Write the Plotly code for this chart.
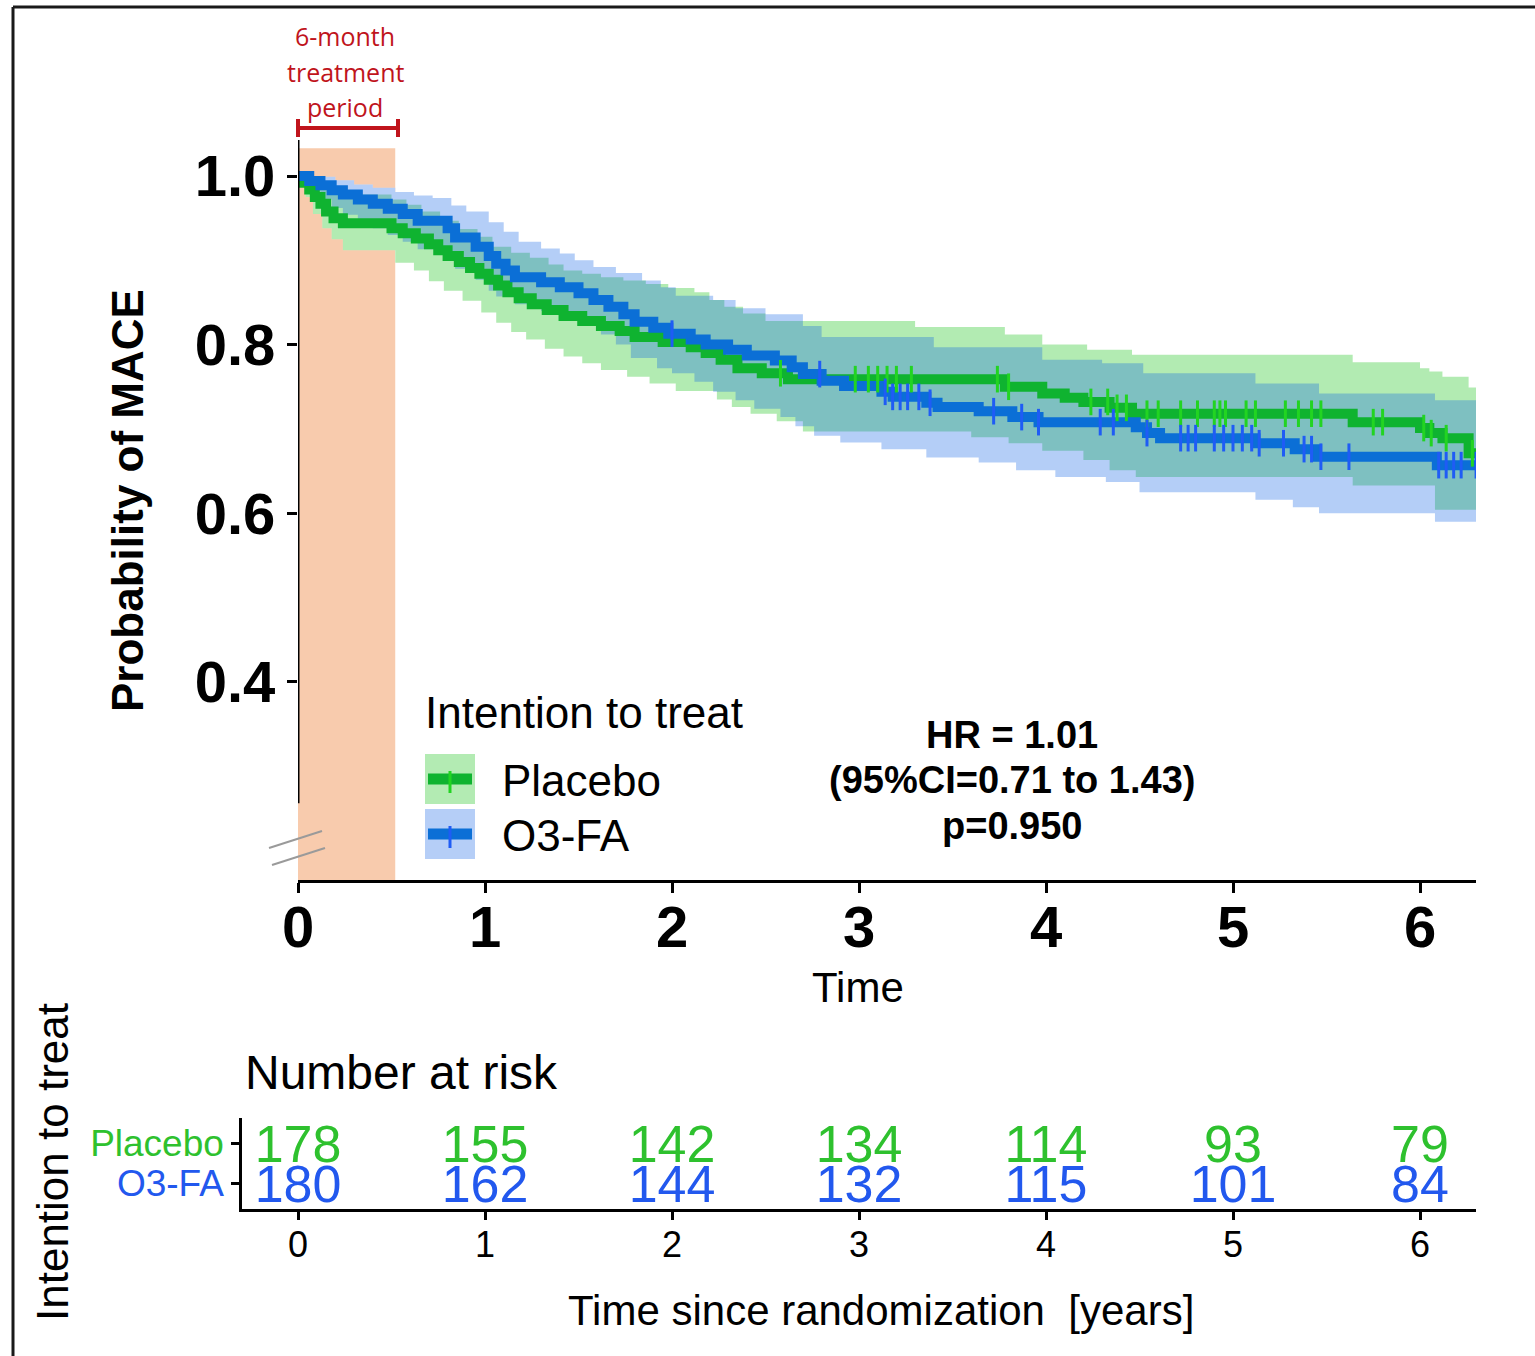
import numpy as np
import plotly.graph_objects as go

# ---------------- data ----------------
# Kaplan-Meier step curves (time in years, survival after each step)
t_placebo = [0, 0.03, 0.06, 0.09, 0.12, 0.15, 0.19, 0.24, 0.50, 0.56, 0.63, 0.70, 0.75, 0.80, 0.86,
             0.92, 0.97, 1.02, 1.07, 1.12, 1.18, 1.25, 1.33, 1.42, 1.52, 1.62, 1.72, 1.80, 1.95, 2.10,
             2.18, 2.26, 2.35, 2.48, 2.62, 3.78, 3.98, 4.10, 4.20, 4.34, 4.46, 5.64, 6.00, 6.05, 6.12,
             6.26, 6.32]
s_placebo = [1.0, 0.992, 0.984, 0.975, 0.967, 0.958, 0.950, 0.944, 0.938, 0.932, 0.926, 0.919, 0.912,
             0.905, 0.898, 0.891, 0.884, 0.877, 0.870, 0.862, 0.855, 0.848, 0.841, 0.834, 0.828, 0.822,
             0.816, 0.809, 0.803, 0.797, 0.790, 0.782, 0.772, 0.766, 0.759, 0.750, 0.742, 0.737, 0.732,
             0.725, 0.718, 0.708, 0.701, 0.695, 0.689, 0.671, 0.671]

t_o3fa = [0, 0.06, 0.12, 0.18, 0.24, 0.32, 0.40, 0.48, 0.56, 0.64, 0.80, 0.84, 0.95, 1.02, 1.06, 1.11,
          1.16, 1.30, 1.40, 1.50, 1.58, 1.66, 1.74, 1.80, 1.90, 1.98, 2.10, 2.18, 2.30, 2.40, 2.55, 2.64,
          2.70, 2.80, 2.92, 3.12, 3.18, 3.36, 3.42, 3.64, 3.82, 3.96, 4.48, 4.54, 4.61, 5.12, 5.33, 5.45,
          6.09, 6.32]
s_o3fa = [1.0, 0.994, 0.989, 0.983, 0.978, 0.972, 0.967, 0.961, 0.955, 0.947, 0.938, 0.927, 0.916, 0.905,
          0.896, 0.888, 0.880, 0.874, 0.868, 0.861, 0.853, 0.845, 0.836, 0.827, 0.820, 0.813, 0.806, 0.800,
          0.794, 0.787, 0.781, 0.773, 0.765, 0.757, 0.751, 0.744, 0.738, 0.731, 0.726, 0.721, 0.714, 0.708,
          0.702, 0.695, 0.689, 0.683, 0.676, 0.667, 0.657, 0.657]

# 95% confidence bands
t_placebo_hi = [0, 0.08, 0.16, 0.50, 0.58, 0.66, 0.76, 0.86, 0.96, 1.04, 1.14, 1.24, 1.34, 1.42, 1.52,
                1.62, 1.74, 1.86, 1.98, 2.12, 2.20, 2.28, 2.38, 2.50, 3.30, 3.78, 3.98, 4.22, 4.46, 5.64,
                6.00, 6.05, 6.12, 6.26, 6.32]
s_placebo_hi = [1.0, 0.99, 0.978, 0.972, 0.966, 0.958, 0.947, 0.937, 0.928, 0.916, 0.909, 0.903, 0.895,
                0.888, 0.884, 0.88, 0.876, 0.872, 0.867, 0.862, 0.853, 0.845, 0.837, 0.828, 0.821, 0.812,
                0.800, 0.794, 0.788, 0.779, 0.772, 0.768, 0.762, 0.749, 0.749]
t_placebo_lo = [0, 0.04, 0.08, 0.13, 0.18, 0.24, 0.52, 0.62, 0.70, 0.78, 0.88, 0.98, 1.06, 1.14, 1.22,
                1.32, 1.42, 1.52, 1.62, 1.76, 1.88, 2.02, 2.24, 2.32, 2.42, 2.56, 2.70, 3.60, 3.80, 3.98,
                4.20, 4.34, 4.48, 5.64, 6.08, 6.32]
s_placebo_lo = [1.0, 0.975, 0.955, 0.938, 0.925, 0.912, 0.897, 0.888, 0.875, 0.864, 0.852, 0.838, 0.826,
                0.815, 0.806, 0.795, 0.786, 0.778, 0.770, 0.762, 0.754, 0.745, 0.735, 0.726, 0.718, 0.709,
                0.697, 0.690, 0.683, 0.674, 0.663, 0.651, 0.643, 0.633, 0.604, 0.604]
t_o3fa_hi = [0, 0.10, 0.20, 0.30, 0.40, 0.52, 0.62, 0.72, 0.82, 0.90, 1.02, 1.10, 1.18, 1.30, 1.40,
             1.48, 1.58, 1.70, 1.84, 1.94, 2.02, 2.22, 2.34, 2.50, 2.70, 2.80, 3.40, 3.98, 4.30, 4.52,
             5.12, 5.46, 6.08, 6.32]
s_o3fa_hi = [1.0, 0.999, 0.995, 0.99, 0.986, 0.981, 0.977, 0.974, 0.965, 0.958, 0.945, 0.934, 0.922,
             0.914, 0.908, 0.900, 0.892, 0.885, 0.876, 0.868, 0.858, 0.853, 0.843, 0.836, 0.822, 0.809,
             0.797, 0.782, 0.778, 0.766, 0.754, 0.742, 0.734, 0.734]
t_o3fa_lo = [0, 0.06, 0.12, 0.18, 0.24, 0.32, 0.40, 0.48, 0.56, 0.64, 0.80, 0.84, 0.95, 1.02, 1.06,
             1.16, 1.30, 1.42, 1.52, 1.62, 1.70, 1.78, 1.92, 2.00, 2.12, 2.22, 2.34, 2.44, 2.58, 2.66,
             2.76, 2.90, 3.12, 3.36, 3.64, 3.84, 4.05, 4.32, 4.50, 5.12, 5.32, 5.46, 6.08, 6.32]
s_o3fa_lo = [1.0, 0.982, 0.972, 0.962, 0.954, 0.946, 0.938, 0.930, 0.922, 0.913, 0.904, 0.890, 0.877,
             0.864, 0.857, 0.848, 0.840, 0.832, 0.822, 0.812, 0.800, 0.784, 0.772, 0.766, 0.756, 0.744,
             0.734, 0.724, 0.714, 0.703, 0.692, 0.684, 0.676, 0.666, 0.660, 0.651, 0.643, 0.637, 0.625,
             0.616, 0.607, 0.600, 0.590, 0.590]

# censoring times
cens_placebo = [2.58, 2.98, 3.05, 3.10, 3.15, 3.20, 3.28, 3.74, 3.80, 4.24, 4.33, 4.38, 4.43, 4.54, 4.60,
                4.72, 4.81, 4.90, 4.93, 4.96, 5.07, 5.12, 5.28, 5.35, 5.42, 5.47, 5.75, 5.80, 6.02, 6.06,
                6.14, 6.28]
cens_o3fa = [2.00, 2.79, 3.14, 3.18, 3.22, 3.26, 3.32, 3.38, 3.72, 3.87, 3.96, 4.29, 4.36, 4.54, 4.72,
             4.76, 4.80, 4.90, 4.95, 5.00, 5.05, 5.10, 5.14, 5.27, 5.38, 5.42, 5.47, 5.62, 6.10, 6.14,
             6.18, 6.22, 6.30]

# number at risk table
risk_years = [0, 1, 2, 3, 4, 5, 6]
risk_placebo = [178, 155, 142, 134, 114, 93, 79]
risk_o3fa = [180, 162, 144, 132, 115, 101, 84]
group_names = ["Placebo", "O3-FA"]

x_ticks = [0, 1, 2, 3, 4, 5, 6]
y_ticks = [0.4, 0.6, 0.8, 1.0]
y_ticklabels = ["0.4", "0.6", "0.8", "1.0"]
treatment_end = 0.52

# ---------------- styling ----------------
W, H = 1535, 1356
FONT = "Liberation Sans, Arial, sans-serif"
GREEN_LINE = "#0FB330"
GREEN_MARK = "#22D422"
BLUE_LINE = "#0B6FD6"
BLUE_MARK = "#1F5CF5"
GREEN_FILL = "rgba(0,188,0,0.30)"
BLUE_FILL = "rgba(8,92,228,0.30)"
RISK_GREEN = "#2EC12E"
RISK_BLUE = "#2258EE"
RISK_TEXT_SHIFT = -0.15  # small vertical nudge of the numbers relative to row ticks


def pxx(x):
    return x / W


def pxy(y):
    return 1 - y / H


def step_at(ts, ss, q):
    ts = np.asarray(ts)
    idx = np.searchsorted(ts, q, side="right") - 1
    idx = np.clip(idx, 0, len(ss) - 1)
    return [ss[i] for i in idx]


XMAX = 6.3
PPY = 187.0  # pixels per year
x_dom = [pxx(298), pxx(298 + XMAX * PPY)]
y_range = [0.1649, 1.0427]
y_dom = [pxy(880), pxy(140)]

fig = go.Figure()

# opaque white underlay for the union of both bands (so bands are not tinted by the shading)
grid = sorted(set(t_placebo_lo) | set(t_placebo_hi) | set(t_o3fa_lo) | set(t_o3fa_hi))
union_lo = np.minimum(step_at(t_placebo_lo, s_placebo_lo, grid), step_at(t_o3fa_lo, s_o3fa_lo, grid))
union_hi = np.maximum(step_at(t_placebo_hi, s_placebo_hi, grid), step_at(t_o3fa_hi, s_o3fa_hi, grid))
fig.add_trace(go.Scatter(x=grid, y=union_lo, mode="lines", line=dict(width=0, shape="hv"),
                         hoverinfo="skip", showlegend=False))
fig.add_trace(go.Scatter(x=grid, y=union_hi, mode="lines", line=dict(width=0, shape="hv"),
                         fill="tonexty", fillcolor="white", hoverinfo="skip", showlegend=False))

# confidence bands
fig.add_trace(go.Scatter(x=t_placebo_lo, y=s_placebo_lo, mode="lines", line=dict(width=0, shape="hv"),
                         hoverinfo="skip", showlegend=False))
fig.add_trace(go.Scatter(x=t_placebo_hi, y=s_placebo_hi, mode="lines", line=dict(width=0, shape="hv"),
                         fill="tonexty", fillcolor=GREEN_FILL, hoverinfo="skip", showlegend=False))
fig.add_trace(go.Scatter(x=t_o3fa_lo, y=s_o3fa_lo, mode="lines", line=dict(width=0, shape="hv"),
                         hoverinfo="skip", showlegend=False))
fig.add_trace(go.Scatter(x=t_o3fa_hi, y=s_o3fa_hi, mode="lines", line=dict(width=0, shape="hv"),
                         fill="tonexty", fillcolor=BLUE_FILL, hoverinfo="skip", showlegend=False))

# survival curves
fig.add_trace(go.Scatter(x=t_placebo, y=s_placebo, mode="lines", name="Placebo",
                         line=dict(color=GREEN_LINE, width=10, shape="hv"), showlegend=False))
fig.add_trace(go.Scatter(x=t_o3fa, y=s_o3fa, mode="lines", name="O3-FA",
                         line=dict(color=BLUE_LINE, width=10, shape="hv"), showlegend=False))

# censor marks
fig.add_trace(go.Scatter(x=cens_placebo, y=step_at(t_placebo, s_placebo, cens_placebo), mode="markers",
                         marker=dict(symbol="line-ns", size=19, line=dict(color=GREEN_MARK, width=3)),
                         showlegend=False, hoverinfo="skip"))
fig.add_trace(go.Scatter(x=cens_o3fa, y=step_at(t_o3fa, s_o3fa, cens_o3fa), mode="markers",
                         marker=dict(symbol="line-ns", size=19, line=dict(color=BLUE_MARK, width=3)),
                         showlegend=False, hoverinfo="skip"))

# risk table
fig.add_trace(go.Scatter(x=risk_years, y=[1 + RISK_TEXT_SHIFT] * len(risk_years), mode="text",
                         text=[str(v) for v in risk_placebo], textposition="middle center",
                         textfont=dict(family=FONT, size=52, color=RISK_GREEN),
                         xaxis="x2", yaxis="y2", showlegend=False, hoverinfo="skip"))
fig.add_trace(go.Scatter(x=risk_years, y=[0 + RISK_TEXT_SHIFT] * len(risk_years), mode="text",
                         text=[str(v) for v in risk_o3fa], textposition="middle center",
                         textfont=dict(family=FONT, size=52, color=RISK_BLUE),
                         xaxis="x2", yaxis="y2", showlegend=False, hoverinfo="skip"))

shapes = []
# outer frame (top and left edges)
shapes.append(dict(type="line", xref="paper", yref="paper", x0=pxx(13), x1=1.01, y0=pxy(7), y1=pxy(7),
                   line=dict(color="#1a1a1a", width=3)))
shapes.append(dict(type="line", xref="paper", yref="paper", x0=pxx(13), x1=pxx(13), y0=pxy(7), y1=-0.01,
                   line=dict(color="#1a1a1a", width=3)))
# treatment period shading
shapes.append(dict(type="rect", xref="x", yref="y", x0=0, x1=treatment_end, y0=y_range[0], y1=1.033,
                   fillcolor="#F8CBAD", line=dict(width=0), layer="below"))
# broken y axis line
shapes.append(dict(type="line", xref="x", yref="y", x0=0, x1=0, y0=0.256, y1=y_range[1],
                   line=dict(color="black", width=3)))
# axis-break marks
shapes.append(dict(type="line", xref="paper", yref="paper", x0=pxx(269), y0=pxy(848), x1=pxx(322),
                   y1=pxy(831), line=dict(color="#9a9a9a", width=2)))
shapes.append(dict(type="line", xref="paper", yref="paper", x0=pxx(272), y0=pxy(865), x1=pxx(325),
                   y1=pxy(848), line=dict(color="#9a9a9a", width=2)))
# red bracket for treatment period
RED = "#C0141C"
shapes.append(dict(type="line", xref="paper", yref="paper", x0=pxx(298), x1=pxx(398), y0=pxy(128),
                   y1=pxy(128), line=dict(color=RED, width=4)))
for bx in (298, 398):
    shapes.append(dict(type="line", xref="paper", yref="paper", x0=pxx(bx), x1=pxx(bx), y0=pxy(119),
                       y1=pxy(137), line=dict(color=RED, width=4)))
# manual legend keys
for (ytop, ybot, fillc, linec, markc) in [(754, 804, "#B3EBB3", GREEN_LINE, GREEN_MARK),
                                          (809, 859, "#B5CEF7", BLUE_LINE, BLUE_MARK)]:
    yc = (ytop + ybot) / 2
    shapes.append(dict(type="rect", xref="paper", yref="paper", x0=pxx(425), x1=pxx(475), y0=pxy(ybot),
                       y1=pxy(ytop), fillcolor=fillc, line=dict(width=0)))
    shapes.append(dict(type="line", xref="paper", yref="paper", x0=pxx(428), x1=pxx(472), y0=pxy(yc),
                       y1=pxy(yc), line=dict(color=linec, width=11)))
    shapes.append(dict(type="line", xref="paper", yref="paper", x0=pxx(450), x1=pxx(450), y0=pxy(yc - 8),
                       y1=pxy(yc + 14), line=dict(color=markc, width=3)))

annotations = []


def ann(text, x, y, size, bold=False, color="black", xanchor="center", angle=0, family=FONT):
    annotations.append(dict(text=text, x=pxx(x), y=pxy(y), xref="paper", yref="paper", showarrow=False,
                            xanchor=xanchor, yanchor="middle", textangle=angle,
                            font=dict(family=family, size=size, color=color,
                                      weight="bold" if bold else "normal")))


ann("6-month", 345, 36, 25, color=RED, family="Open Sans, Noto Sans, sans-serif")
ann("treatment", 345, 72, 25, color=RED, family="Open Sans, Noto Sans, sans-serif")
ann("period", 345, 107, 25, color=RED, family="Open Sans, Noto Sans, sans-serif")
ann("Probability of MACE", 127, 501, 44, bold=True, angle=-90)
ann("Time", 858, 988, 42)
ann("Intention to treat", 423, 712, 44, xanchor="left")
ann(group_names[0], 500, 780, 44, xanchor="left")
ann(group_names[1], 500, 835, 44, xanchor="left")
ann("HR = 1.01", 1012, 735, 38, bold=True)
ann("(95%CI=0.71 to 1.43)", 1012, 780, 38, bold=True)
ann("p=0.950", 1012, 826, 38, bold=True)
ann("Number at risk", 243, 1072, 48, xanchor="left")
ann("Time since randomization\u00a0 [years]", 881, 1310, 42)
ann("Intention to treat", 52, 1162, 44, angle=-90)

fig.update_layout(
    width=W, height=H, autosize=False,
    margin=dict(l=0, r=0, t=0, b=0, autoexpand=False),
    paper_bgcolor="white", plot_bgcolor="rgba(0,0,0,0)",
    showlegend=False,
    font=dict(family=FONT, color="black"),
    xaxis=dict(domain=x_dom, range=[0, XMAX], showgrid=False, zeroline=False, automargin=False,
               showline=True, linecolor="black", linewidth=3,
               ticks="outside", ticklen=10, tickwidth=3, tickcolor="black", ticklabelstandoff=-16,
               tickvals=x_ticks, ticktext=[str(v) for v in x_ticks],
               tickfont=dict(family=FONT, size=58, color="black", weight="bold"), anchor="y"),
    yaxis=dict(domain=y_dom, range=y_range, showgrid=False, zeroline=False, showline=False,
               automargin=False,
               ticks="outside", ticklen=10, tickwidth=3, tickcolor="black",
               tickvals=y_ticks, ticktext=y_ticklabels,
               tickfont=dict(family=FONT, size=58, color="black", weight="bold"), anchor="x"),
    xaxis2=dict(domain=[pxx(242), pxx(298 + XMAX * PPY)], range=[-0.3, XMAX], showgrid=False,
                zeroline=False, showline=True, linecolor="black", linewidth=3, automargin=False,
                ticks="outside", ticklen=8, tickwidth=2.5, tickcolor="black", ticklabelstandoff=-6,
                tickvals=risk_years, ticktext=[str(v) for v in risk_years],
                tickfont=dict(family=FONT, size=36, color="black"), anchor="y2"),
    yaxis2=dict(domain=[pxy(1209), pxy(1118)], range=[-0.65, 1.625], showgrid=False, zeroline=False,
                showline=True, linecolor="black", linewidth=2.5, automargin=False,
                ticks="outside", ticklen=8, tickwidth=2.5, tickcolor="black",
                tickvals=[1, 0],
                ticktext=['<span style="color:%s">%s</span>' % (RISK_GREEN, group_names[0]),
                          '<span style="color:%s">%s</span>' % (RISK_BLUE, group_names[1])],
                tickfont=dict(family=FONT, size=37), anchor="x2"),
    shapes=shapes,
    annotations=annotations,
)

fig.write_html("out.html", config={"displayModeBar": False},
               post_script="document.body.style.margin='0';")
